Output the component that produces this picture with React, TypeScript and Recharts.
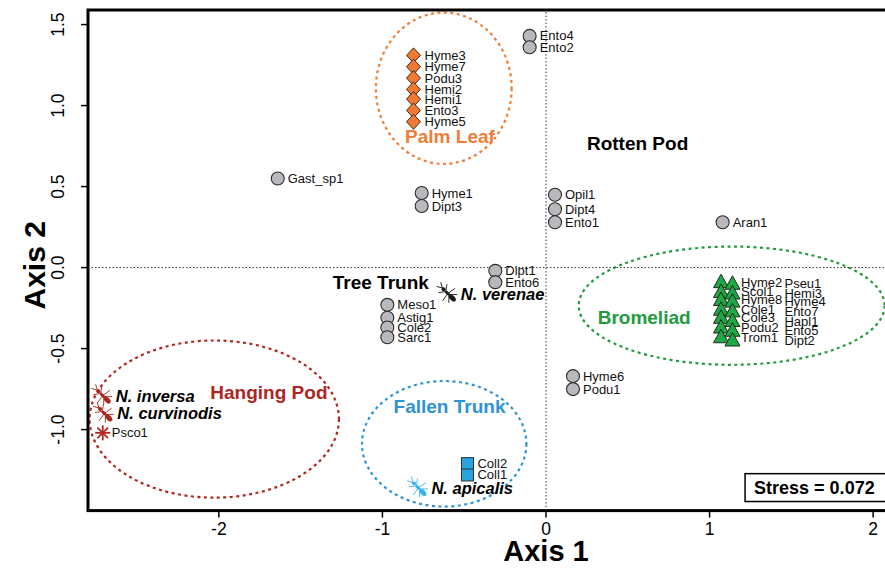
import React from 'react';
import { ScatterChart, Scatter, XAxis, YAxis, ReferenceLine, ReferenceArea } from 'recharts';

const FONT = '"Liberation Sans", Arial, Helvetica, sans-serif';

const xTicks = [-2, -1, 0, 1, 2];
const yTicks = [-1, -0.5, 0, 0.5, 1, 1.5];
const stressValue = 0.072;

// Other taxa (grey circles)
const otherTaxa = [
  { name: 'Ento4', x: -0.10, y: 1.43 },
  { name: 'Ento2', x: -0.10, y: 1.36 },
  { name: 'Gast_sp1', x: -1.64, y: 0.55 },
  { name: 'Hyme1', x: -0.76, y: 0.46 },
  { name: 'Dipt3', x: -0.76, y: 0.38 },
  { name: 'Opil1', x: 0.055, y: 0.45 },
  { name: 'Dipt4', x: 0.055, y: 0.36 },
  { name: 'Ento1', x: 0.055, y: 0.28 },
  { name: 'Aran1', x: 1.08, y: 0.28 },
  { name: 'Dipt1', x: -0.31, y: -0.02 },
  { name: 'Ento6', x: -0.31, y: -0.09 },
  { name: 'Meso1', x: -0.97, y: -0.23 },
  { name: 'Astig1', x: -0.97, y: -0.31 },
  { name: 'Cole2', x: -0.97, y: -0.37 },
  { name: 'Sarc1', x: -0.97, y: -0.43 },
  { name: 'Hyme6', x: 0.165, y: -0.67 },
  { name: 'Podu1', x: 0.165, y: -0.75 },
];

// Palm leaf taxa (orange diamonds)
const palmLeafTaxa = [
  { name: 'Hyme3', x: -0.81, y: 1.31 },
  { name: 'Hyme7', x: -0.81, y: 1.24 },
  { name: 'Podu3', x: -0.81, y: 1.17 },
  { name: 'Hemi2', x: -0.81, y: 1.10 },
  { name: 'Hemi1', x: -0.81, y: 1.04 },
  { name: 'Ento3', x: -0.81, y: 0.97 },
  { name: 'Hyme5', x: -0.81, y: 0.90 },
];

// Bromeliad taxa (green triangles), two columns
const bromeliadTaxaA = [
  { name: 'Hyme2', x: 1.07, y: -0.09 },
  { name: 'Scol1', x: 1.07, y: -0.15 },
  { name: 'Hyme8', x: 1.07, y: -0.20 },
  { name: 'Cole1', x: 1.07, y: -0.26 },
  { name: 'Cole3', x: 1.07, y: -0.31 },
  { name: 'Podu2', x: 1.07, y: -0.37 },
  { name: 'Trom1', x: 1.07, y: -0.43 },
];
const bromeliadTaxaB = [
  { name: 'Pseu1', x: 1.14, y: -0.10 },
  { name: 'Hemi3', x: 1.14, y: -0.16 },
  { name: 'Hyme4', x: 1.14, y: -0.21 },
  { name: 'Ento7', x: 1.14, y: -0.27 },
  { name: 'Hapl1', x: 1.14, y: -0.33 },
  { name: 'Ento5', x: 1.14, y: -0.39 },
  { name: 'Dipt2', x: 1.14, y: -0.45 },
];

// Fallen trunk taxa (blue squares)
const fallenTrunkTaxa = [
  { name: 'Coll2', x: -0.48, y: -1.21 },
  { name: 'Coll1', x: -0.48, y: -1.28 },
];

// Hanging pod taxa (red asterisk)
const hangingPodTaxa = [{ name: 'Psco1', x: -2.71, y: -1.02 }];

// Ant species
const antSpecies = [
  { name: 'N. inversa', x: -2.71, y: -0.79 },
  { name: 'N. curvinodis', x: -2.70, y: -0.90 },
  { name: 'N. verenae', x: -0.60, y: -0.16 },
  { name: 'N. apicalis', x: -0.78, y: -1.36 },
];
const antColors: Record<string, string> = {
  'N. inversa': '#a8261e',
  'N. curvinodis': '#a8261e',
  'N. verenae': '#1a1a1a',
  'N. apicalis': '#3bb3ea',
};

// Habitat ellipses (bounding boxes in axis units)
const habitatEllipses = [
  { name: 'Palm Leaf', x1: -1.04, x2: -0.21, y1: 0.64, y2: 1.574 },
  { name: 'Bromeliad', x1: 0.20, x2: 2.07, y1: -0.60, y2: 0.13 },
  { name: 'Hanging Pod', x1: -2.79, x2: -1.266, y1: -1.42, y2: -0.45 },
  { name: 'Fallen Trunk', x1: -1.125, x2: -0.12, y1: -1.475, y2: -0.70 },
];

// Habitat labels
const habitatLabels = [
  { name: 'Palm Leaf', x: -0.587, y: 0.81 },
  { name: 'Rotten Pod', x: 0.56, y: 0.765 },
  { name: 'Bromeliad', x: 0.60, y: -0.31 },
  { name: 'Tree Trunk', x: -1.01, y: -0.093 },
  { name: 'Hanging Pod', x: -1.694, y: -0.77 },
  { name: 'Fallen Trunk', x: -0.59, y: -0.86 },
];

const habitatColors: Record<string, string> = {
  'Palm Leaf': '#f07d35',
  'Rotten Pod': '#000000',
  'Bromeliad': '#229a3e',
  'Tree Trunk': '#000000',
  'Hanging Pod': '#b0261f',
  'Fallen Trunk': '#2e93d3',
};

const LABEL_SIZE = 13;

const labelText = (x: number, y: number, s: string) => (
  <text x={x} y={y} dominantBaseline="central" fontSize={LABEL_SIZE} fill="#111" fontFamily={FONT}>{s}</text>
);

const circleShape = (p: any) => (
  <g>
    <circle cx={p.cx} cy={p.cy} r={6.5} fill="#b9b9bd" stroke="#2b2b2b" strokeWidth={1.1} />
    {labelText(p.cx + 10, p.cy, p.payload.name)}
  </g>
);

const diamondShape = (p: any) => (
  <g>
    <polygon
      points={`${p.cx},${p.cy - 7.5} ${p.cx + 7},${p.cy} ${p.cx},${p.cy + 7.5} ${p.cx - 7},${p.cy}`}
      fill="#f07a32" stroke="#3a2a20" strokeWidth={1}
    />
    {labelText(p.cx + 11, p.cy, p.payload.name)}
  </g>
);

const triangleShape = (dx: number) => (p: any) => (
  <g>
    <polygon
      points={`${p.cx},${p.cy - 8} ${p.cx - 7.5},${p.cy + 5.5} ${p.cx + 7.5},${p.cy + 5.5}`}
      fill="#20a845" stroke="#1c2a1c" strokeWidth={1}
    />
    {labelText(p.cx + dx, p.cy, p.payload.name)}
  </g>
);

const squareShape = (p: any) => (
  <g>
    <rect x={p.cx - 6} y={p.cy - 6} width={12} height={12} fill="#2aa3de" stroke="#2b3440" strokeWidth={1} />
    {labelText(p.cx + 10, p.cy, p.payload.name)}
  </g>
);

const asteriskShape = (p: any) => {
  const c = '#b0261f';
  const r = 7.5;
  const d = r * 0.707;
  return (
    <g>
      <g stroke={c} strokeWidth={1.8}>
        <line x1={p.cx - r} y1={p.cy} x2={p.cx + r} y2={p.cy} />
        <line x1={p.cx} y1={p.cy - r} x2={p.cx} y2={p.cy + r} />
        <line x1={p.cx - d} y1={p.cy - d} x2={p.cx + d} y2={p.cy + d} />
        <line x1={p.cx - d} y1={p.cy + d} x2={p.cx + d} y2={p.cy - d} />
      </g>
      {labelText(p.cx + 9, p.cy, p.payload.name)}
    </g>
  );
};

const Ant = ({ cx, cy, color }: { cx: number; cy: number; color: string }) => (
  <g stroke={color} fill={color} strokeWidth={0.9} strokeLinecap="round">
    <ellipse cx={cx + 4.5} cy={cy + 4.5} rx={4.2} ry={2.5} transform={`rotate(45 ${cx + 4.5} ${cy + 4.5})`} stroke="none" />
    <ellipse cx={cx - 0.5} cy={cy - 0.5} rx={3.2} ry={1.5} transform={`rotate(45 ${cx - 0.5} ${cy - 0.5})`} stroke="none" />
    <circle cx={cx - 4.3} cy={cy - 4.3} r={2} stroke="none" />
    <line x1={cx - 5.5} y1={cy - 5.5} x2={cx - 7} y2={cy - 11} fill="none" />
    <line x1={cx - 5.5} y1={cy - 5.5} x2={cx - 11} y2={cy - 7} fill="none" />
    <line x1={cx - 2} y1={cy - 2} x2={cx - 1} y2={cy - 9} fill="none" />
    <line x1={cx - 2} y1={cy - 2} x2={cx - 9} y2={cy - 1} fill="none" />
    <line x1={cx} y1={cy} x2={cx + 7} y2={cy - 5} fill="none" />
    <line x1={cx} y1={cy} x2={cx - 5} y2={cy + 7} fill="none" />
    <line x1={cx + 1} y1={cy + 1} x2={cx + 9} y2={cy + 1} fill="none" />
    <line x1={cx + 1} y1={cy + 1} x2={cx + 1} y2={cy + 9} fill="none" />
  </g>
);

const antShape = (p: any) => (
  <g>
    <Ant cx={p.cx} cy={p.cy} color={antColors[p.payload.name]} />
    <text x={p.cx + 13} y={p.cy} dominantBaseline="central" fontSize={16.5} fontWeight="bold" fontStyle="italic" fill="#000" fontFamily={FONT}>
      {p.payload.name}
    </text>
  </g>
);

const habitatShape = (p: any) => (
  <text x={p.cx} y={p.cy} textAnchor="middle" dominantBaseline="central" fontSize={19} fontWeight="bold"
    fill={habitatColors[p.payload.name]} fontFamily={FONT}>
    {p.payload.name}
  </text>
);

const ellipseShape = (color: string) => (p: any) => (
  <ellipse
    cx={p.x + p.width / 2} cy={p.y + p.height / 2} rx={Math.abs(p.width) / 2} ry={Math.abs(p.height) / 2}
    fill="none" stroke={color} strokeWidth={2.2} strokeDasharray="3 3.5"
  />
);

const YTick = (p: any) => {
  const { x, y, payload } = p;
  return (
    <text x={x} y={y} transform={`rotate(-90 ${x} ${y})`} textAnchor="middle" fontSize={17.5} fill="#000" fontFamily={FONT}>
      {Number(payload.value).toFixed(1)}
    </text>
  );
};

const XTick = (p: any) => {
  const { x, y, payload } = p;
  return (
    <text x={x} y={y} textAnchor="middle" dominantBaseline="hanging" fontSize={17.5} fill="#000" fontFamily={FONT}>
      {payload.value}
    </text>
  );
};

export default function App() {
  return (
    <div style={{ position: 'absolute', left: 0, top: 0, width: 885, height: 568, overflow: 'hidden', background: '#fff' }}>
      <ScatterChart width={1010} height={568} margin={{ top: 10, right: 6, bottom: 0, left: 0 }}>
        <XAxis
          type="number" dataKey="x" domain={[-2.8, 2.8]} ticks={xTicks} interval={0} allowDataOverflow
          height={57.4} tickSize={7} tickMargin={5} axisLine={false}
          tickLine={{ stroke: '#000', strokeWidth: 1.5 }} tick={<XTick />}
          label={{
            content: (lp: any) => {
              const vb = lp.viewBox || {};
              return (
                <text x={vb.x + vb.width / 2} y={vb.y + vb.height - 7} textAnchor="middle" fontSize={29}
                  fontWeight="bold" fill="#000" fontFamily={FONT}>Axis 1</text>
              );
            },
          }}
        />
        <YAxis
          type="number" dataKey="y" domain={[-1.5, 1.59]} ticks={yTicks} interval={0} allowDataOverflow
          width={88} tickSize={7} tickMargin={17} axisLine={false}
          tickLine={{ stroke: '#000', strokeWidth: 1.5 }} tick={<YTick />}
          label={{
            content: (lp: any) => {
              const vb = lp.viewBox || {};
              const cy = vb.y + vb.height / 2 + 5;
              return (
                <text x={45} y={cy} transform={`rotate(-90 45 ${cy})`} textAnchor="middle" fontSize={30}
                  fontWeight="bold" fill="#000" fontFamily={FONT}>Axis 2</text>
              );
            },
          }}
        />
        {habitatEllipses.map((e) => (
          <ReferenceArea key={e.name} x1={e.x1} x2={e.x2} y1={e.y1} y2={e.y2} ifOverflow="visible"
            shape={ellipseShape(habitatColors[e.name])} />
        ))}
        <ReferenceLine x={0} stroke="#333" strokeWidth={1} strokeDasharray="1.5 2" ifOverflow="visible" />
        <ReferenceLine y={0} stroke="#333" strokeWidth={1} strokeDasharray="1.5 2" ifOverflow="visible" />
        <Scatter data={otherTaxa} shape={circleShape} isAnimationActive={false} />
        <Scatter data={palmLeafTaxa} shape={diamondShape} isAnimationActive={false} />
        <Scatter data={bromeliadTaxaA} shape={triangleShape(20)} isAnimationActive={false} />
        <Scatter data={bromeliadTaxaB} shape={triangleShape(52)} isAnimationActive={false} />
        <Scatter data={fallenTrunkTaxa} shape={squareShape} isAnimationActive={false} />
        <Scatter data={hangingPodTaxa} shape={asteriskShape} isAnimationActive={false} />
        <Scatter data={antSpecies} shape={antShape} isAnimationActive={false} />
        <Scatter data={habitatLabels} shape={habitatShape} isAnimationActive={false} />
        <ReferenceArea x1={1.217} x2={2.14} y1={-1.444} y2={-1.272} ifOverflow="visible"
          shape={(p: any) => (
            <g>
              <rect x={p.x} y={p.y} width={p.width} height={p.height} fill="#fff" stroke="#000" strokeWidth={1.5} />
              <text x={p.x + 9} y={p.y + p.height / 2} dominantBaseline="central" fontSize={18} fontWeight="bold"
                fill="#000" fontFamily={FONT}>{`Stress = ${stressValue}`}</text>
            </g>
          )}
        />
        <ReferenceArea x1={-2.8} x2={2.8} y1={-1.5} y2={1.59} ifOverflow="visible"
          shape={(p: any) => (
            <rect x={p.x} y={p.y} width={p.width} height={p.height} fill="none" stroke="#000" strokeWidth={3} />
          )}
        />
      </ScatterChart>
    </div>
  );
}
